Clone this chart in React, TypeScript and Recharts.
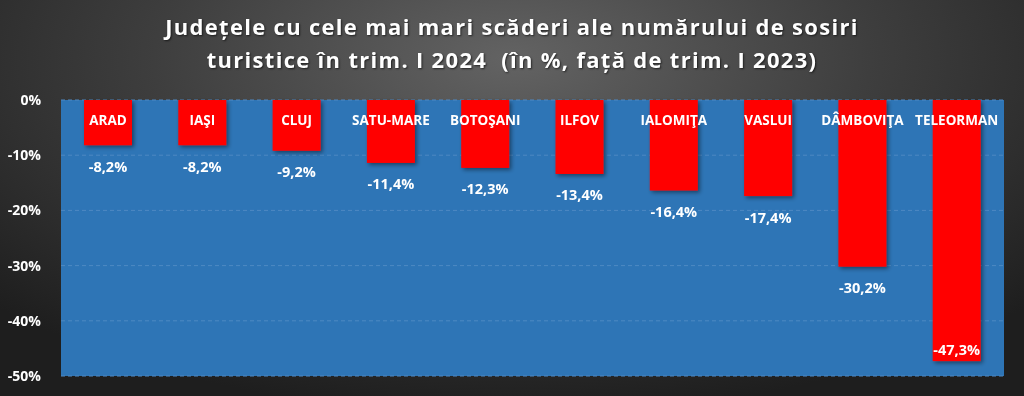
import React from "react";
import { Bar, BarChart, CartesianGrid, LabelList, XAxis, YAxis } from "recharts";

const counties = ["ARAD", "IAŞI", "CLUJ", "SATU-MARE", "BOTOŞANI", "ILFOV", "IALOMIŢA", "VASLUI", "DÂMBOVIŢA", "TELEORMAN"];
const changes = [-8.2, -8.2, -9.2, -11.4, -12.3, -13.4, -16.4, -17.4, -30.2, -47.3];
const yTicks = [0, -10, -20, -30, -40, -50];
const titleLines = [
  "Județele cu cele mai mari scăderi ale numărului de sosiri",
  "turistice în trim. I 2024  (în %, față de trim. I 2023)",
];

const data = counties.map((name, i) => ({ name, value: changes[i] }));

const FONT = "'Open Sans', 'DejaVu Sans', sans-serif";
const PLOT_BOTTOM = 376;

const fmt = (v: number) => `${v.toFixed(1).replace(".", ",")}%`;

// bar with a soft drop shadow, like the office chart
const ShadowBar = (props: any) => {
  const { x, y, width, height } = props;
  const top = Math.min(y, y + height);
  const h = Math.abs(height);
  return <rect x={x} y={top} width={width} height={h} fill="#ff0000" filter="url(#barShadow)" />;
};

const NameLabel = (props: any) => {
  const { x, y, width, height, value } = props;
  const top = Math.min(y, y + height);
  return (
    <text x={x + width / 2} y={top + 20} textAnchor="middle" dominantBaseline="central"
      fill="#fff" fontSize={13.5} fontWeight={700} fontFamily={FONT}>
      {value}
    </text>
  );
};

const ValueLabel = (props: any) => {
  const { x, y, width, height, value } = props;
  const bottom = Math.max(y, y + height);
  const inside = bottom + 30 > PLOT_BOTTOM;
  return (
    <text x={x + width / 2} y={inside ? bottom - 12 : bottom + 21} textAnchor="middle" dominantBaseline="central"
      fill="#fff" fontSize={14.5} fontWeight={700} fontFamily={FONT}>
      {fmt(value)}
    </text>
  );
};

export default function App() {
  return (
    <div
      style={{
        position: "fixed",
        left: 0,
        top: 0,
        width: 1024,
        height: 396,
        background: "radial-gradient(ellipse 70% 90% at 50% 15%, #636363 0%, #3e3e3e 50%, #1e1e1e 100%)",
        fontFamily: FONT,
      }}
    >
      <div
        style={{
          position: "absolute",
          top: 10,
          left: 0,
          width: 1024,
          textAlign: "center",
          color: "#fff",
          fontWeight: 700,
          fontSize: 22,
          lineHeight: "33px",
          letterSpacing: 1.3,
          whiteSpace: "pre",
          textShadow: "1px 1px 2px rgba(0,0,0,0.6)",
        }}
      >
        {titleLines.map((t) => (
          <div key={t}>{t}</div>
        ))}
      </div>
      <div style={{ position: "absolute", left: 0, top: 0 }}>
        <BarChart width={1024} height={396} data={data} margin={{ top: 100, right: 20, bottom: 20, left: 0 }} barSize={48}>
          <defs>
            <filter id="barShadow" x="-20%" y="-20%" width="140%" height="140%">
              <feDropShadow dx="2" dy="2" stdDeviation="2" floodColor="#000" floodOpacity="0.45" />
            </filter>
          </defs>
          <CartesianGrid vertical={false} fill="#2e75b6" stroke="#4e89c3" strokeDasharray="4 3" />
          <XAxis dataKey="name" hide />
          <YAxis
            width={61}
            domain={[-50, 0]}
            ticks={yTicks}
            tickFormatter={(v: number) => `${v}%`}
            axisLine={false}
            tickLine={false}
            tickMargin={14}
            tick={{ fill: "#fff", fontSize: 14, fontWeight: 700, fontFamily: FONT }}
          />
          <Bar dataKey="value" isAnimationActive={false} shape={ShadowBar}>
            <LabelList dataKey="name" content={NameLabel} />
            <LabelList dataKey="value" content={ValueLabel} />
          </Bar>
        </BarChart>
      </div>
    </div>
  );
}
